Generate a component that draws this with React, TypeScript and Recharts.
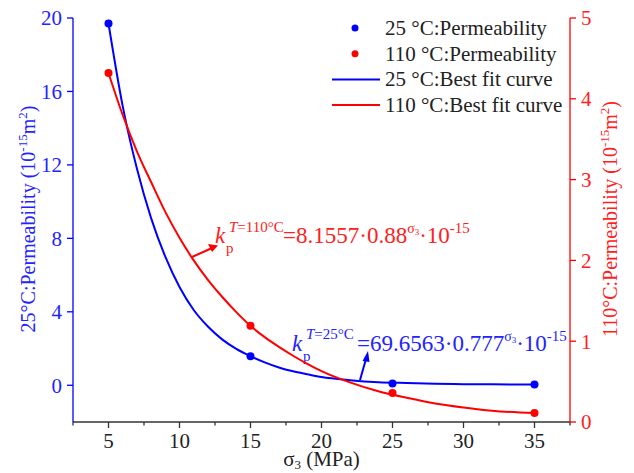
import { ComposedChart, Line, Scatter, XAxis, YAxis, Customized } from 'recharts'

const FONT = '"Liberation Serif", "Times New Roman", serif'
const BLUE = '#0000ff'
const BLUE_TXT = '#2323ff'
const RED = '#ff0000'
const RED_TXT = '#ff2020'
const AXIS = '#333333'

// measured points
const pointSigma = [5, 15, 25, 35]
const perm25 = [19.7, 1.58, 0.09, 0.04]
const perm110 = [4.32, 1.19, 0.36, 0.11]

// best fit curves
const fitSigma = [5, 6, 7, 8, 9, 10, 11, 12, 13, 14, 15, 16, 17, 18, 19, 20, 22, 24, 26, 28, 30, 32, 35]
const fit25 = [19.7, 15.2, 11.8, 9.1, 7.0, 5.35, 4.1, 3.2, 2.5, 1.98, 1.58, 1.25, 0.97, 0.76, 0.6, 0.45, 0.28, 0.17, 0.12, 0.08, 0.06, 0.05, 0.04]
const fit110 = [4.32, 3.8, 3.35, 2.97, 2.6, 2.28, 2.0, 1.76, 1.55, 1.36, 1.19, 1.05, 0.93, 0.82, 0.72, 0.63, 0.49, 0.38, 0.3, 0.23, 0.18, 0.14, 0.11]

const xTicks = [2.5, 5, 7.5, 10, 12.5, 15, 17.5, 20, 22.5, 25, 27.5, 30, 32.5, 35, 37.5]
const leftTicks = [0, 4, 8, 12, 16, 20]
const rightTicks = [0, 1, 2, 3, 4, 5]

const legendItems = [
  { label: '25 °C:Permeability', color: BLUE, kind: 'dot' },
  { label: '110 °C:Permeability', color: RED, kind: 'dot' },
  { label: '25 °C:Best fit curve', color: BLUE, kind: 'line' },
  { label: '110 °C:Best fit curve', color: RED, kind: 'line' },
]

const points = pointSigma.map((s, i) => ({ s, k25: perm25[i], k110: perm110[i] }))
const fits = fitSigma.map((s, i) => ({ s, k25: fit25[i], k110: fit110[i] }))

const W = 634
const H = 473
const LEFT_W = 73
const RIGHT_W = 64
const TOP = 18
const X_H = 51

function XTick({ x, y, payload }: any) {
  const v = payload.value
  const major = v % 5 === 0
  return (
    <g>
      <line x1={x} x2={x} y1={y} y2={y + (major ? 6 : 3.5)} stroke={AXIS} strokeWidth={1.3} />
      {major && (
        <text x={x} y={y + 26} textAnchor="middle" fill="#222" fontSize={21} fontFamily={FONT}>
          {v}
        </text>
      )}
    </g>
  )
}

const dot = (color: string) => (p: any) => <circle cx={p.cx} cy={p.cy} r={4} fill={color} />

function Annotations() {
  const plotL = LEFT_W
  const plotR = W - RIGHT_W
  const midY = 219
  return (
    <g fontFamily={FONT}>
      {/* axis titles */}
      <text x={(plotL + plotR) / 2} y={466} textAnchor="middle" fontSize={21} fill="#222">
        σ<tspan fontSize={13} dy={3}>3</tspan>
        <tspan dy={-3}> (MPa)</tspan>
      </text>
      <text transform={`translate(35, ${midY}) rotate(-90)`} textAnchor="middle" fontSize={20} fill={BLUE_TXT}>
        25°C:Permeability (10<tspan fontSize={13} dy={-8}>-15</tspan>
        <tspan dy={8}>m</tspan>
        <tspan fontSize={13} dy={-8}>2</tspan>
        <tspan dy={8}>)</tspan>
      </text>
      <text transform={`translate(617, ${midY}) rotate(-90)`} textAnchor="middle" fontSize={20} fill={RED_TXT}>
        110°C:Permeability (10<tspan fontSize={13} dy={-8}>-15</tspan>
        <tspan dy={8}>m</tspan>
        <tspan fontSize={13} dy={-8}>2</tspan>
        <tspan dy={8}>)</tspan>
      </text>

      {/* legend */}
      {legendItems.map((it, i) => {
        const base = 35 + i * 25.7
        return (
          <g key={it.label}>
            {it.kind === 'dot' ? (
              <circle cx={355} cy={base - 7} r={3.5} fill={it.color} />
            ) : (
              <line x1={332} x2={380} y1={base - 7} y2={base - 7} stroke={it.color} strokeWidth={2} />
            )}
            <text x={385} y={base} fontSize={21} fill="#222">
              {it.label}
            </text>
          </g>
        )
      })}

      {/* 110 °C fit equation */}
      <line x1={192} y1={257} x2={211} y2={248.5} stroke={RED} strokeWidth={2} />
      <polygon points="218,245.5 208,244 212,252" fill={RED} />
      <g fill={RED_TXT}>
        <text x={215} y={243} fontSize={23} fontStyle="italic">k</text>
        <text x={226} y={253} fontSize={15}>p</text>
        <text x={229} y={232} fontSize={15}>
          <tspan fontStyle="italic">T</tspan>=110°C
        </text>
        <text x={283} y={243} fontSize={23}>
          =8.1557·0.88<tspan fontSize={14} dy={-10}>σ</tspan>
          <tspan fontSize={9} dy={2}>3</tspan>
          <tspan dy={8}>·10</tspan>
          <tspan fontSize={15} dy={-10}>-15</tspan>
        </text>
      </g>

      {/* 25 °C fit equation */}
      <line x1={360} y1={380} x2={366} y2={359} stroke={BLUE} strokeWidth={2} />
      <polygon points="368,351 362.5,361 369.5,362" fill={BLUE} />
      <g fill={BLUE_TXT}>
        <text x={292} y={351} fontSize={23} fontStyle="italic">k</text>
        <text x={303} y={361} fontSize={15}>p</text>
        <text x={306} y={339} fontSize={15}>
          <tspan fontStyle="italic">T</tspan>=25°C
        </text>
        <text x={357} y={351} fontSize={23}>
          =69.6563·0.777<tspan fontSize={14} dy={-10}>σ</tspan>
          <tspan fontSize={9} dy={2}>3</tspan>
          <tspan dy={8}>·10</tspan>
          <tspan fontSize={15} dy={-10}>-15</tspan>
        </text>
      </g>
    </g>
  )
}

export default function App() {
  return (
    <div style={{ position: 'absolute', left: 0, top: 0, width: W, height: H, background: '#fff' }}>
      <ComposedChart width={W} height={H} margin={{ top: TOP, right: 0, bottom: 0, left: 0 }}>
        <XAxis
          dataKey="s"
          type="number"
          domain={[2.5, 37.5]}
          ticks={xTicks}
          interval={0}
          height={X_H}
          tickLine={false}
          tickSize={0}
          tickMargin={0}
          tick={<XTick />}
          axisLine={{ stroke: AXIS, strokeWidth: 1.3 }}
        />
        <YAxis
          yAxisId="left"
          orientation="left"
          width={LEFT_W}
          type="number"
          domain={[-2, 20]}
          ticks={leftTicks}
          interval={0}
          allowDataOverflow
          tickSize={6}
          tickMargin={5}
          axisLine={{ stroke: BLUE, strokeWidth: 1.3 }}
          tickLine={{ stroke: BLUE, strokeWidth: 1.3 }}
          tick={{ fill: BLUE_TXT, fontSize: 21, fontFamily: FONT }}
        />
        <YAxis
          yAxisId="right"
          orientation="right"
          width={RIGHT_W}
          type="number"
          domain={[0, 5]}
          ticks={rightTicks}
          interval={0}
          allowDataOverflow
          tickSize={6}
          tickMargin={5}
          axisLine={{ stroke: RED, strokeWidth: 1.3 }}
          tickLine={{ stroke: RED, strokeWidth: 1.3 }}
          tick={{ fill: RED_TXT, fontSize: 21, fontFamily: FONT }}
        />
        <Line
          data={fits}
          yAxisId="left"
          dataKey="k25"
          type="monotone"
          stroke={BLUE}
          strokeWidth={2}
          dot={false}
          activeDot={false}
          isAnimationActive={false}
        />
        <Line
          data={fits}
          yAxisId="right"
          dataKey="k110"
          type="monotone"
          stroke={RED}
          strokeWidth={2}
          dot={false}
          activeDot={false}
          isAnimationActive={false}
        />
        <Scatter data={points} yAxisId="left" dataKey="k25" shape={dot(BLUE)} isAnimationActive={false} />
        <Scatter data={points} yAxisId="right" dataKey="k110" shape={dot(RED)} isAnimationActive={false} />
        <Customized component={Annotations} />
      </ComposedChart>
    </div>
  )
}
